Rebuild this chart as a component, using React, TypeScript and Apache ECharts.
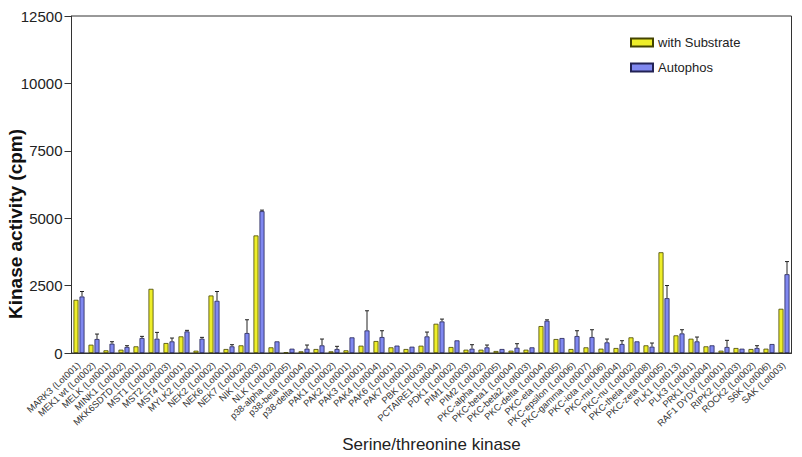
import React, { useEffect, useRef } from "react";
import * as echarts from "echarts";

const categories = [
  "MARK3 (Lot001)", "MEK1 wt (Lot002)", "MELK (Lot001)", "MINK1 (Lot002)", "MKK6SDTD (Lot001)",
  "MST1 (Lot002)", "MST2 (Lot003)", "MST4 (Lot001)", "MYLK2 (Lot001)", "NEK2 (Lot002)",
  "NEK6 (Lot001)", "NEK7 (Lot002)", "NIK (Lot003)", "NLK (Lot002)", "p38-alpha (Lot005)",
  "p38-beta (Lot004)", "p38-delta (Lot001)", "PAK1 (Lot002)", "PAK2 (Lot001)", "PAK3 (Lot001)",
  "PAK4 (Lot004)", "PAK6 (Lot001)", "PAK7 (Lot001)", "PBK (Lot003)", "PCTAIRE1 (Lot004)",
  "PDK1 (Lot002)", "PIM1 (Lot003)", "PIM2 (Lot002)", "PKC-alpha (Lot005)", "PKC-beta1 (Lot004)",
  "PKC-beta2 (Lot003)", "PKC-delta (Lot004)", "PKC-eta (Lot005)", "PKC-epsilon (Lot006)", "PKC-gamma (Lot007)",
  "PKC-iota (Lot006)", "PKC-mu (Lot004)", "PKC-nu (Lot002)", "PKC-theta (Lot008)", "PKC-zeta (Lot005)",
  "PLK1 (Lot013)", "PLK3 (Lot001)", "PRK1 (Lot004)", "RAF1 DYDY (Lot001)", "RIPK2 (Lot003)",
  "ROCK2 (Lot002)", "S6K (Lot006)", "SAK (Lot003)",
];

const withSubstrate = [
  1973, 308, 99, 123, 247, 2380, 370, 617, 86, 2133,
  148, 284, 4360, 210, 25, 62, 148, 62, 99, 271,
  444, 210, 148, 271, 1085, 222, 123, 123, 74, 86,
  123, 999, 518, 148, 210, 160, 185, 580, 284, 3736,
  654, 530, 247, 86, 185, 148, 160, 1640,
];

const autophos = [
  2096, 518, 345, 222, 555, 530, 432, 801, 530, 1936,
  247, 740, 5260, 432, 160, 160, 284, 148, 580, 838,
  592, 275, 234, 617, 1171, 469, 160, 210, 148, 197,
  210, 1196, 555, 629, 592, 395, 333, 432, 234, 2034,
  727, 432, 284, 222, 160, 185, 333, 2922,
];

// upper end of error bars on Autophos bars (null = none visible)
const autophosErrTop = [
  2281, 703, 419, 271, 617, 765, 555, 840, 580, 2281,
  308, 1233, 5300, null, null, 296, 518, 247, null, 1566,
  826, null, null, 777, 1258, null, 308, 296, null, 345,
  null, 1230, null, 826, 863, 518, 456, null, 370, 2503,
  863, 592, null, 469, null, 271, null, 3391,
];

const yTicks = [0, 2500, 5000, 7500, 10000, 12500];
const yTitle = "Kinase activity (cpm)";

const FONT = "Liberation Sans, Arial, sans-serif";

export default function App() {
  const ref = useRef<HTMLDivElement>(null);
  useEffect(() => {
    if (!ref.current) return;
    const chart = echarts.init(ref.current, null, { renderer: "svg" });
    const errData = autophosErrTop
      .map((e, i) => (e == null ? null : [i, autophos[i], e]))
      .filter((d) => d != null);
    chart.setOption({
      animation: false,
      backgroundColor: "#ffffff",
      textStyle: { fontFamily: FONT },
      grid: {
        left: 71.5,
        right: 10.5,
        top: 16,
        bottom: 104,
        show: true,
        borderColor: "#333",
        borderWidth: 1,
        containLabel: false,
        outerBoundsMode: "none",
      },
      graphic: [
        {
          type: "text",
          x: 15,
          y: 224,
          rotation: Math.PI / 2,
          style: {
            text: yTitle,
            fontSize: 19,
            fontWeight: "bold",
            fontFamily: FONT,
            fill: "#111",
            textAlign: "center",
            textVerticalAlign: "middle",
          },
        },
      ],
      legend: {
        top: 31,
        left: 625,
        orient: "vertical",
        icon: "rect",
        itemWidth: 22,
        itemHeight: 8,
        itemGap: 12,
        textStyle: { fontSize: 13, color: "#222", fontFamily: FONT },
        data: ["with Substrate", "Autophos"],
      },
      xAxis: {
        type: "category",
        data: categories,
        name: "Serine/threonine kinase",
        nameLocation: "middle",
        nameGap: 80,
        nameTextStyle: { fontSize: 17, color: "#222", fontFamily: FONT },
        axisLine: { lineStyle: { color: "#333", width: 1 } },
        axisTick: { show: false },
        axisLabel: {
          interval: 0,
          rotate: 43,
          fontSize: 9.3,
          color: "#333",
          margin: 11,
          fontFamily: FONT,
        },
      },
      yAxis: {
        type: "value",
        min: yTicks[0],
        max: yTicks[yTicks.length - 1],
        interval: 2500,
        axisLine: { show: true, lineStyle: { color: "#333", width: 1 } },
        axisTick: { show: true, length: 7, lineStyle: { color: "#333" } },
        axisLabel: {
          fontSize: 15,
          color: "#222",
          margin: 9,
          fontFamily: FONT,
          formatter: (v: number) => String(v),
        },
        splitLine: { show: false },
      },
      series: [
        {
          name: "with Substrate",
          type: "bar",
          data: withSubstrate,
          barWidth: 5,
          barGap: "20%",
          itemStyle: { color: "#EEEE2A", borderColor: "#444400", borderWidth: 0.8 },
        },
        {
          name: "Autophos",
          type: "bar",
          data: autophos,
          barWidth: 5,
          itemStyle: { color: "#8088F0", borderColor: "#222255", borderWidth: 0.8 },
        },
        {
          type: "custom",
          name: "err",
          data: errData,
          encode: { x: 0, y: [1, 2] },
          z: 5,
          renderItem: (params: any, api: any) => {
            const i = api.value(0);
            const lo = api.coord([i, api.value(1)]);
            const hi = api.coord([i, api.value(2)]);
            const x = lo[0] + 3;
            const cap = 2;
            return {
              type: "group",
              children: [
                {
                  type: "line",
                  shape: { x1: x, y1: lo[1], x2: x, y2: hi[1] },
                  style: { stroke: "#222", lineWidth: 1 },
                },
                {
                  type: "line",
                  shape: { x1: x - cap, y1: hi[1], x2: x + cap, y2: hi[1] },
                  style: { stroke: "#222", lineWidth: 1 },
                },
              ],
            };
          },
        },
      ],
    });
    return () => chart.dispose();
  }, []);
  return (
    <div
      ref={ref}
      style={{ position: "fixed", left: 0, top: 0, width: 802, height: 457 }}
    />
  );
}
